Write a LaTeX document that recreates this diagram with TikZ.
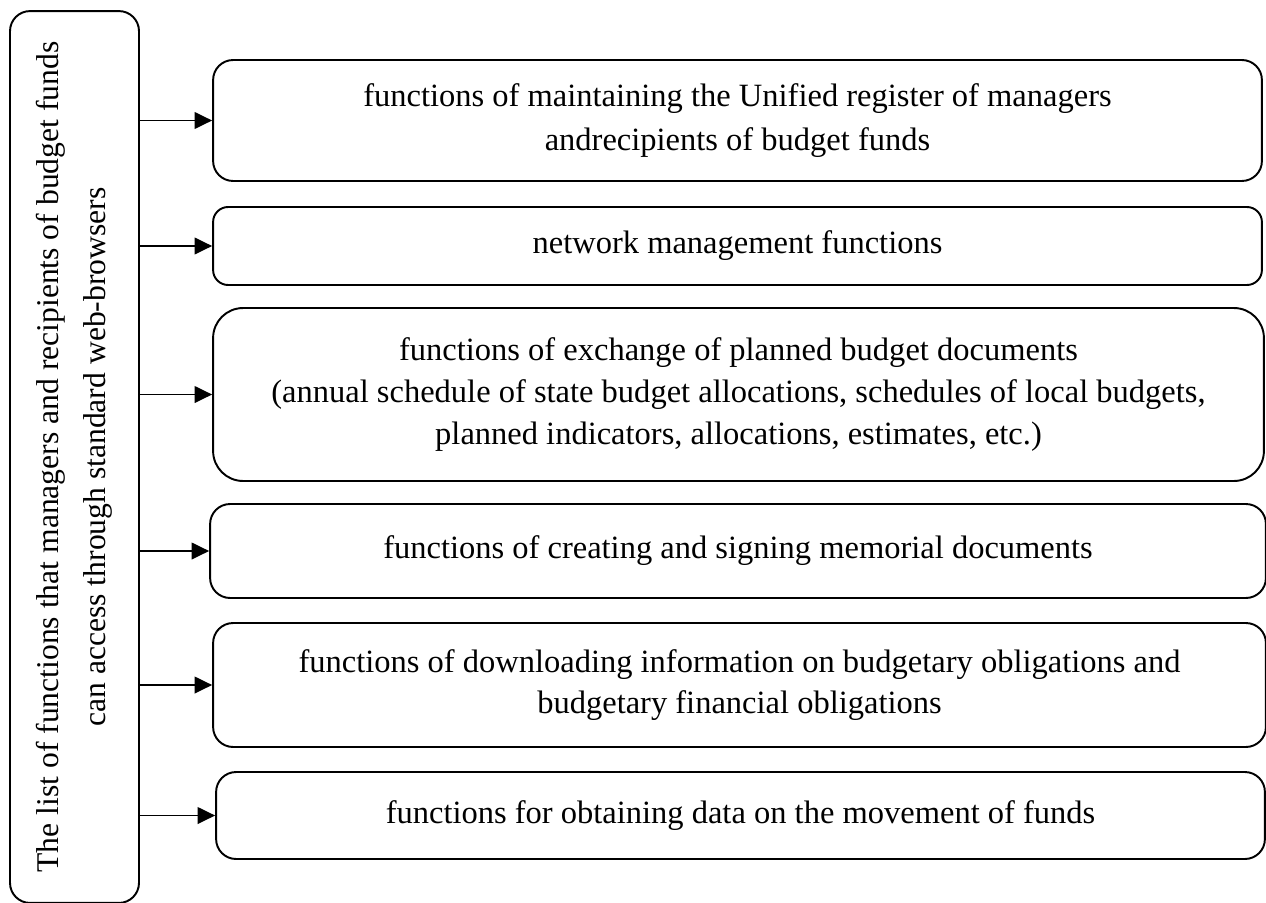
\documentclass[tikz,border=0pt]{standalone}
\usepackage{fontspec}
\setmainfont{Liberation Serif}
\usetikzlibrary{arrows.meta,calc}
\tikzset{
    block/.style = {draw, rectangle, rounded corners=0.4cm,
        line width=1.1pt, inner sep=0pt, align=center,
        font=\fontsize{18.5}{25.5}\selectfont},
    arrow/.style = {draw, line width=1pt,
        -{Triangle[length=10pt,width=9.5pt]}}
}

\begin{document}
\begin{tikzpicture}[x=0.02cm, y=-0.02cm]
    \useasboundingbox (0,0) rectangle (1266,902);
    % rotated node: its south anchor is the right side
    \node[block, rotate=90, minimum width=17.84cm, minimum height=2.58cm,
        font=\fontsize{18}{27}\selectfont] (list) at (74.5,457)
        {The list of functions that managers and recipients of budget funds\\can access through standard web-browsers};
    \node[block, minimum width=20.98cm, minimum height=2.42cm] (b1) at (737.5,120.5)
        {functions of maintaining the Unified register of managers\\andrecipients of budget funds};
    \node[block, rounded corners=0.3cm, minimum width=20.98cm, minimum height=1.56cm] (b2) at (737.5,246)
        {network management functions};
    \node[block, rounded corners=0.6cm, minimum width=21.02cm, minimum height=3.46cm,
        font=\fontsize{18.5}{24}\selectfont] (b3) at (738.5,394.5)
        {functions of exchange of planned budget documents\\(annual schedule of state budget allocations, schedules of local budgets,\\planned indicators, allocations, estimates, etc.)};
    \node[block, minimum width=21.12cm, minimum height=1.88cm] (b4) at (738,551)
        {functions of creating and signing memorial documents};
    \node[block, minimum width=21.06cm, minimum height=2.48cm,
        font=\fontsize{18.5}{23}\selectfont] (b5) at (739.5,685)
        {functions of downloading information on budgetary obligations and\\budgetary financial obligations};
    \node[block, minimum width=20.98cm, minimum height=1.74cm] (b6) at (740.5,815.5)
        {functions for obtaining data on the movement of funds};
    \foreach \b in {b1,b2,b3,b4,b5,b6}
        \draw[arrow] (list.south |- \b.west) -- (\b.west);
\end{tikzpicture}
\end{document}
